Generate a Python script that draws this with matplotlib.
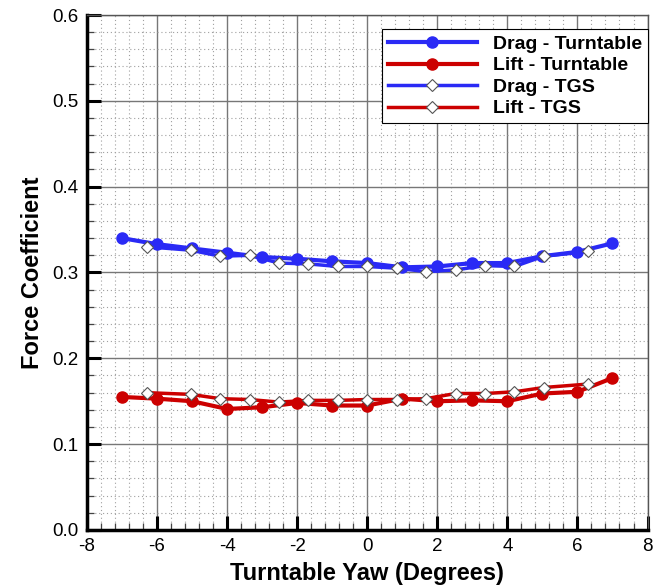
import numpy as np
import matplotlib
matplotlib.use("Agg")
import matplotlib.pyplot as plt
from matplotlib.ticker import MultipleLocator, FormatStrFormatter

plt.rcParams['font.family'] = ['Liberation Sans', 'DejaVu Sans']
plt.rcParams['axes.unicode_minus'] = False

# Turntable runs (integer yaw)
yaw_tt = [-7, -6, -5, -4, -3, -2, -1, 0, 1, 2, 3, 4, 5, 6, 7]
drag_tt = [0.340, 0.333, 0.328, 0.323, 0.318, 0.316, 0.313, 0.311,
           0.306, 0.307, 0.311, 0.311, 0.319, 0.324, 0.334]
lift_tt = [0.155, 0.153, 0.150, 0.141, 0.143, 0.148, 0.145, 0.145,
           0.153, 0.150, 0.151, 0.150, 0.159, 0.161, 0.177]

# TGS runs
yaw_tgs = [-6.3, -5.04, -4.2, -3.36, -2.52, -1.68, -0.84, 0,
           0.84, 1.68, 2.52, 3.36, 4.2, 5.04, 6.3]
drag_tgs = [0.330, 0.326, 0.319, 0.320, 0.311, 0.310, 0.307, 0.307,
            0.305, 0.301, 0.303, 0.308, 0.307, 0.319, 0.3245]
lift_tgs = [0.160, 0.158, 0.153, 0.152, 0.149, 0.151, 0.151, 0.152,
            0.152, 0.153, 0.159, 0.159, 0.161, 0.166, 0.170]

blue = '#2a2af5'
red = '#cc0000'

fig = plt.figure(figsize=(6.61, 5.86), dpi=100)
ax = fig.add_axes([0.1316, 0.0956, 0.848, 0.8788])

ax.plot(yaw_tt, drag_tt, '-o', color=blue, lw=3, ms=8, mfc=blue, mec=blue,
        label='Drag - Turntable', zorder=3)
ax.plot(yaw_tt, lift_tt, '-o', color=red, lw=3, ms=8, mfc=red, mec=red,
        label='Lift - Turntable', zorder=3)
ax.plot(yaw_tgs, drag_tgs, '-D', color=blue, lw=2.5, ms=6, mfc='white', mec='#555555',
        mew=0.8, label='Drag - TGS', zorder=4)
ax.plot(yaw_tgs, lift_tgs, '-D', color=red, lw=2.5, ms=6, mfc='white', mec='#555555',
        mew=0.8, label='Lift - TGS', zorder=4)

ax.set_xlim(-8, 8)
ax.set_ylim(0, 0.6)
ax.xaxis.set_major_locator(MultipleLocator(2))
ax.xaxis.set_minor_locator(MultipleLocator(0.4))
ax.yaxis.set_major_locator(MultipleLocator(0.1))
ax.yaxis.set_minor_locator(MultipleLocator(0.02))
ax.yaxis.set_major_formatter(FormatStrFormatter('%.1f'))

ax.grid(True, which='major', color='#777777', lw=1, ls='-')
ax.grid(True, which='minor', color='#a0a0a0', lw=0.8, ls=(0, (1, 2.5)))
ax.set_axisbelow(True)

ax.tick_params(which='major', direction='in', length=10, width=2.2, labelsize=13.5,
               pad=6, color='black')
ax.tick_params(which='minor', direction='in', length=5, width=0.9, color='#444444')

for side in ['left', 'bottom']:
    ax.spines[side].set_linewidth(2.5)
for side in ['top', 'right']:
    ax.spines[side].set_linewidth(1)
    ax.spines[side].set_color('#555555')

ax.set_xlabel('Turntable Yaw (Degrees)', fontsize=17, fontweight='bold', labelpad=5)
ax.set_ylabel('Force Coefficient', fontsize=17, fontweight='bold', labelpad=6)

leg = ax.legend(loc='upper right', bbox_to_anchor=(1.0, 0.972), borderaxespad=0,
                prop={'weight': 'bold', 'size': 14}, handlelength=4.6,
                fancybox=False, framealpha=1, edgecolor='black',
                borderpad=0.3, labelspacing=0.2, handletextpad=0.8)
leg.get_frame().set_linewidth(0.8)

fig.savefig('out.png', dpi=100)
